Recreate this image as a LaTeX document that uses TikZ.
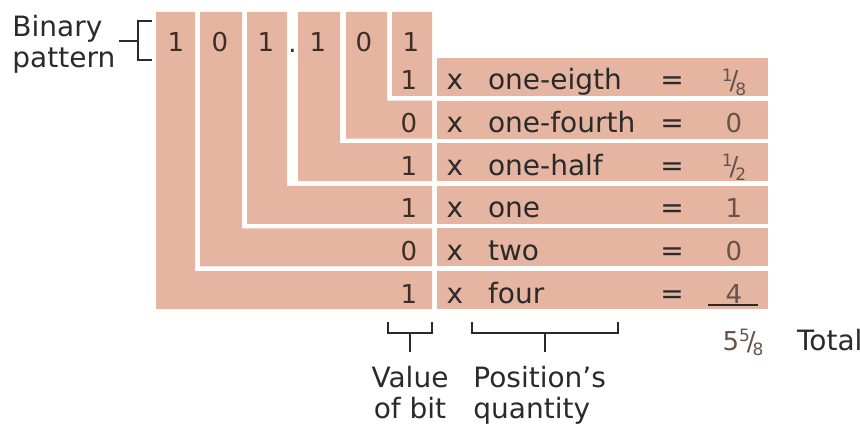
\documentclass[tikz,border=0pt]{standalone}
\usepackage{fontspec}
\setmainfont{DejaVu Sans}
\usepackage{tikz}
\usetikzlibrary{positioning}
\definecolor{peach}{HTML}{E5B5A2}
\definecolor{ink}{HTML}{2A2A2A}
\definecolor{digit}{HTML}{3E2D27}
\definecolor{result}{HTML}{65534C}
\newcommand{\frc}[2]{\raisebox{.6ex}{\fontsize{8.5}{8.5}\selectfont#1}\kern-.12em/\kern-.12em\raisebox{-.4ex}{\fontsize{8.5}{8.5}\selectfont#2}}

\begin{document}
\begin{tikzpicture}[x=0.5pt,y=-0.5pt,
    lbl/.style={font=\fontsize{14}{15.5}\selectfont,text=ink,inner sep=0pt},
    word/.style={font=\fontsize{14}{16}\selectfont,text=ink,anchor=base},
    bitd/.style={font=\fontsize{13}{13}\selectfont,text=digit,anchor=base},
    res/.style={font=\fontsize{13}{13}\selectfont,text=result,anchor=base},
    brk/.style={draw=ink,line width=0.75pt}]
  \useasboundingbox (0,0) rectangle (860,427);

  % one nested L band per bit, widest for the leftmost bit
  \foreach \k/\xa/\xb in {1/156/195,2/200/242,3/247/287,4/298/340,5/346/387,6/392/432}{
    \pgfmathsetmacro\yt{58+42.6*(6-\k)}
    \fill[peach] (\xa,12) -- (\xb,12) -- (\xb,\yt) -- (432,\yt) -- (432,\yt+38) -- (\xa,\yt+38) -- cycle;}

  % the pattern itself
  \foreach \k/\x/\bit in {1/176/1,2/220/0,3/266/1,4/318/1,5/364/0,6/411/1}
    \node[bitd] (p\k) at (\x,52) {\bit};
  \node[bitd] (pt) at (292.5,53) {.};

  % one row per position
  \foreach \j/\bit/\word/\val in {0/1/one-eigth/{\frc18},1/0/one-fourth/0,2/1/one-half/{\frc12},
                                  3/1/one/1,4/0/two/0,5/1/four/4}{
    \pgfmathsetmacro\yt{58+42.6*\j}
    \fill[peach] (437,\yt) rectangle (768,\yt+38);
    \node[bitd] (v\j) at (409,\yt+32) {\bit};
    \node[word] (x\j) at (455,\yt+32) {x};
    \node[word,anchor=base west] (q\j) at (481,\yt+32) {\word};
    \node[word] (e\j) at (672,\yt+32) {=};
    \node[res] (r\j) at (734,\yt+32) {\val};}
  \draw[ink,line width=0.8pt] (708,305) -- (758,305);

  \node[res] (sum) at (743,350) {5\frc58};
  \node[word,anchor=base west] (total) at (790,350) {Total};

  % labels and their brackets
  \node[lbl,align=left,anchor=north west] (binlbl) at (12,15) {Binary\\pattern};
  \coordinate (bt) at (152,21);
  \coordinate (bb) at (152,60);
  \coordinate (bm) at (138,41);
  \draw[brk] (bt) -- ++(-14,0) |- (bb);
  \draw[brk] (binlbl.east |- bm) ++(3,0) -- (bm);

  \coordinate (vbl) at (388,333);
  \coordinate (vbr) at (432,333);
  \coordinate (vst) at (410,333);
  \node[lbl,align=center,anchor=north,inner ysep=7pt] (valtxt) at (410,352) {Value\\of bit};
  \draw[brk] (vbl) ++(0,-11) -- (vbl) -- (vbr) -- ++(0,-11);
  \draw[brk] (vst) -- (valtxt);

  \coordinate (qbl) at (472,333);
  \coordinate (qbr) at (618,333);
  \coordinate (qst) at (545,333);
  \node[lbl,align=left,anchor=north west,inner ysep=7pt] (postxt) at (473,352) {Position’s\\quantity};
  \draw[brk] (qbl) ++(0,-11) -- (qbl) -- (qbr) -- ++(0,-11);
  \draw[brk] (qst) -- (qst |- postxt.north);
\end{tikzpicture}
\end{document}
